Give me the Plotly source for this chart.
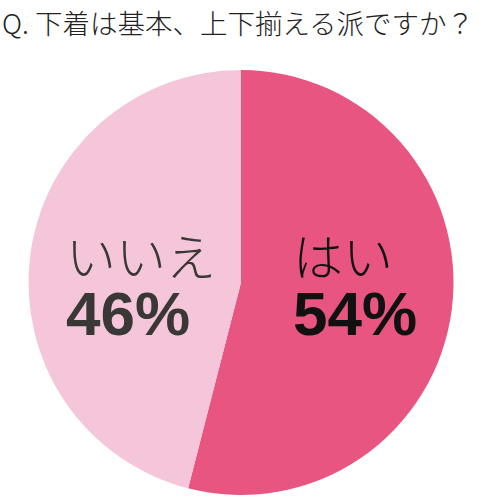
import plotly.graph_objects as go

# data
labels = ["はい", "いいえ"]
values = [54, 46]
colors = ["#E85580", "#F5C5DA"]
text_colors = ["#111111", "#3A3837"]
title_text = "Q. 下着は基本、上下揃える派ですか？"

W, H = 479, 500

fig = go.Figure()
fig.add_trace(go.Pie(
    labels=labels,
    values=values,
    sort=False,
    direction="clockwise",
    rotation=0,
    marker=dict(colors=colors, line=dict(width=0)),
    textinfo="none",
    hoverinfo="label+percent",
    showlegend=False,
    domain=dict(x=[27 / W, 455 / W], y=[5 / H, 430 / H]),
))

# label positions (pixels, left edge / vertical centre)
label_x = [295, 68]
label_y = [283, 283]

annotations = [dict(
    text=title_text, x=0, y=1, xref="paper", yref="paper",
    xanchor="left", yanchor="top", showarrow=False,
    font=dict(family="Noto Sans CJK JP", size=27.5, color="#222222", weight=300),
)]
for i, lab in enumerate(labels):
    txt = (f'<span style="font-family:Noto Sans CJK JP;font-size:50px;font-weight:300">{lab}</span><br>'
           f'<span style="font-family:Liberation Sans;font-size:62px;font-weight:bold">{values[i]}%</span>')
    annotations.append(dict(
        text=txt, x=label_x[i] / W, y=1 - label_y[i] / H, xref="paper", yref="paper",
        xanchor="left", yanchor="middle", align="left", showarrow=False, xshift=-4,
        font=dict(family="Noto Sans CJK JP", size=45, color=text_colors[i]),
    ))

fig.update_layout(
    width=W, height=H,
    margin=dict(l=0, r=0, t=0, b=0),
    paper_bgcolor="white",
    plot_bgcolor="white",
    annotations=annotations,
)

fig.write_html("out.html", config={"displayModeBar": False},
               post_script="document.body.style.margin='0';")
